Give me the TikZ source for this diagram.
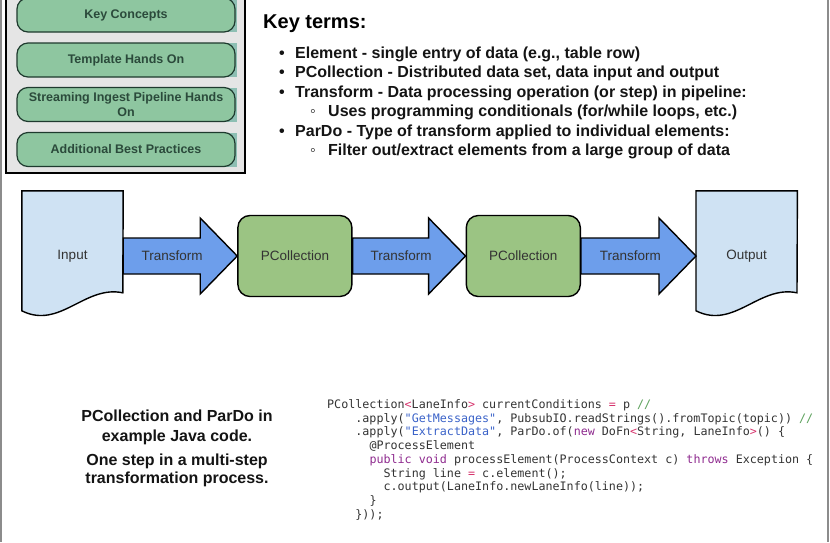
\documentclass[tikz,border=0pt]{standalone}
\usepackage{fontspec}
\setmainfont{Liberation Sans}
\newfontfamily\codefont{DejaVu Sans Mono}
\usetikzlibrary{positioning,calc}
\pgfdeclarelayer{background}
\pgfsetlayers{background,main}

\definecolor{panelgray}{HTML}{E5E5E5}
\definecolor{btngreen}{HTML}{8EC6A0}
\definecolor{btnborder}{HTML}{1E3A2E}
\definecolor{btntext}{HTML}{2B4A3B}
\definecolor{btnteal}{HTML}{8DBFB3}
\definecolor{docblue}{HTML}{CFE2F3}
\definecolor{arrowblue}{HTML}{6D9EEB}
\definecolor{pcgreen}{HTML}{9BC483}
\definecolor{flowtext}{HTML}{333333}
\definecolor{edgegray}{HTML}{8C8C8C}
\definecolor{codetext}{HTML}{333333}
\definecolor{codekw}{HTML}{8E2A8E}
\definecolor{codeop}{HTML}{D6336C}
\definecolor{codestr}{HTML}{3A62C8}
\definecolor{codecom}{HTML}{5AA05A}

\newcommand{\ckw}[1]{\textcolor{codekw}{#1}}
\newcommand{\cop}[1]{\textcolor{codeop}{#1}}
\newcommand{\cstr}[1]{\textcolor{codestr}{#1}}
\newcommand{\ccom}[1]{\textcolor{codecom}{#1}}

% document outline under a doc node
\newcommand{\docoutline}[1]{%
  \begin{pgfonlayer}{background}
  \draw[docline] (#1.north west) -- (#1.north east) -- ($(#1.north west)+(101,102)$)
    .. controls ($(#1.north west)+(63,94)$) and ($(#1.north west)+(38,139)$) .. ($(#1.north west)+(0,120)$) -- cycle;
  \end{pgfonlayer}}

% block arrow between two nodes
\newcommand{\flowarrow}[3]{%
  \draw[blockarrow] let \p1=(#1.east), \p2=(#2.west) in
    (\x1,{\y1+18pt}) -- ({\x2-37pt},{\y1+18pt}) -- ({\x2-37pt},{\y1+38pt}) -- (\x2,\y1)
    -- ({\x2-37pt},{\y1-38pt}) -- ({\x2-37pt},{\y1-18pt}) -- (\x1,{\y1-18pt}) -- cycle;
  \node[flowlabel] (#3) at ($(#1.east)!0.43!(#2.west)$) {Transform};}

\newcommand{\keyterm}[3]{%
  \node[term, anchor=base] (#2dot) at (282,#1) {•};
  \node[term, anchor=base west] (#2) at (295,#1) {#3};}
\newcommand{\subterm}[3]{%
  \node[term, anchor=base] (#2dot) at (313,#1) {◦};
  \node[term, anchor=base west] (#2) at (328,#1) {#3};}

\tikzset{
  panel/.style={draw=black, fill=panelgray, line width=1.8pt},
  edge/.style={draw=edgegray, line width=2pt},
  btnback/.style={fill=btnteal},
  button/.style={draw=btnborder, fill=btngreen, rounded corners=11pt, line width=1.2pt,
    minimum width=218pt, minimum height=34pt, inner sep=2pt, align=center,
    font=\fontsize{12.5}{14.5}\selectfont\bfseries, text=btntext},
  doc/.style={minimum width=101pt, minimum height=130pt, inner sep=0pt,
    font=\fontsize{13.5}{16}\selectfont, text=flowtext},
  docline/.style={draw=black, fill=docblue, line width=1.4pt},
  pcoll/.style={draw=black, fill=pcgreen, rounded corners=12pt, line width=1.4pt,
    minimum width=114pt, minimum height=81pt, font=\fontsize{13.5}{16}\selectfont, text=flowtext},
  blockarrow/.style={draw=black, fill=arrowblue, line width=1.4pt, line join=miter},
  flowlabel/.style={font=\fontsize{13.5}{16}\selectfont, text=flowtext},
  title/.style={font=\fontsize{20}{24}\selectfont\bfseries, inner sep=0pt},
  term/.style={font=\fontsize{16}{19}\selectfont\bfseries, text=black!92, inner sep=0pt},
  note/.style={font=\fontsize{16}{20}\selectfont\bfseries, text=black!92, inner sep=0pt, anchor=base},
  code/.style={font=\codefont\fontsize{11.7}{13.75}\selectfont, text=codetext, inner sep=0pt, anchor=base west}
}

\begin{document}
\begin{tikzpicture}[x=1pt,y=-1pt]
\useasboundingbox (0,0) rectangle (830,542);
\draw[edge] (1.2,0) -- (1.2,542);
\draw[edge] (827.5,0) -- (827.5,542);

% menu panel
\draw[panel] (6,-6) rectangle (245,173);
\foreach \yb/\name/\txt in {15/kc/Key Concepts, 60/tho/Template Hands On,
    104.5/sip/{Streaming Ingest Pipeline Hands\\On}, 149.5/abp/Additional Best Practices} {
  \fill[btnback] (30,\yb-17) rectangle (236.5,\yb+17);
  \node[button] (\name) at (126,\yb) {\txt};
}

% key terms
\node[title, anchor=base west] (kt) at (263,28.5) {Key terms:};
\keyterm{58.3}{el}{Element - single entry of data (e.g., table row)}
\keyterm{77.7}{pc}{PCollection - Distributed data set, data input and output}
\keyterm{97}{tr}{Transform - Data processing operation (or step) in pipeline:}
\subterm{116.5}{cond}{Uses programming conditionals (for/while loops, etc.)}
\keyterm{136}{pd}{ParDo - Type of transform applied to individual elements:}
\subterm{155.3}{filt}{Filter out/extract elements from a large group of data}

% pipeline
\node[doc] (in) at (72.5,256) {Input};
\node[pcoll, right=114pt of in] (pc1) {PCollection};
\node[pcoll, right=113pt of pc1] (pc2) {PCollection};
\node[doc, right=115pt of pc2] (out) {Output};
\docoutline{in}
\docoutline{out}
\flowarrow{in}{pc1}{t1}
\flowarrow{pc1}{pc2}{t2}
\flowarrow{pc2}{out}{t3}

% note
\foreach \yb/\name/\txt in {421.7/jn1/PCollection and ParDo in, 441.7/jn2/example Java code.,
    465/jn3/One step in a multi-step, 483.3/jn4/transformation process.}
  \node[note] (\name) at (177,\yb) {\txt};

% java code
\node[code] (c1) at (327,408.3) {PCollection\cop{<}LaneInfo\cop{>} currentConditions \cop{=} p \ccom{//}};
\node[code] (c2) at (355.2,422) {.apply(\cstr{"GetMessages"}, PubsubIO.readStrings().fromTopic(topic)) \ccom{//}};
\node[code] (c3) at (355.2,435.8) {.apply(\cstr{"ExtractData"}, ParDo.of(\ckw{new} DoFn\cop{<}String, LaneInfo\cop{>}() \{};
\node[code] (c4) at (369.3,449.5) {@ProcessElement};
\node[code] (c5) at (369.3,463.3) {\ckw{public} \ckw{void} processElement(ProcessContext c) \ckw{throws} Exception \{};
\node[code] (c6) at (383.4,477) {String line \cop{=} c.element();};
\node[code] (c7) at (383.4,490.8) {c.output(LaneInfo.newLaneInfo(line));};
\node[code] (c8) at (369.3,504.5) {\}};
\node[code] (c9) at (355.2,518.3) {\}));};
\end{tikzpicture}
\end{document}
